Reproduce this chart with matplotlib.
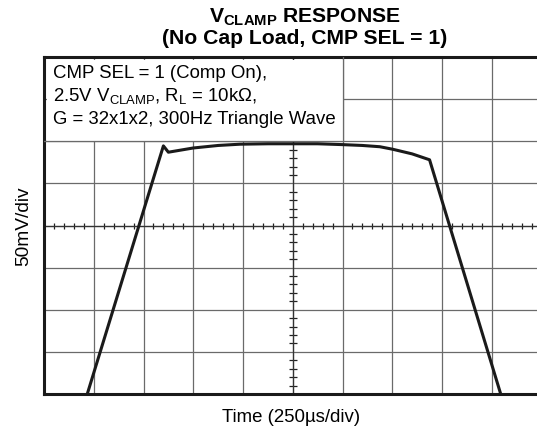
import matplotlib
matplotlib.use("Agg")
import matplotlib.pyplot as plt
from matplotlib.patches import Rectangle

plt.rcParams['font.family'] = ['Liberation Sans', 'DejaVu Sans']
plt.rcParams['mathtext.fontset'] = 'custom'
plt.rcParams['mathtext.rm'] = 'Liberation Sans'
plt.rcParams['mathtext.bf'] = 'Liberation Sans:bold'

# scope trace, in divisions (x: 10 div time, y: 8 div at 50mV/div)
t_div = [0.87, 2.40, 2.50, 3.00, 3.50, 3.94, 4.50, 5.00, 5.50, 6.00, 6.40, 6.75, 7.01, 7.40, 7.75, 9.18]
v_div = [0.00, 5.89, 5.74, 5.84, 5.90, 5.93, 5.94, 5.94, 5.94, 5.92, 5.90, 5.87, 5.81, 5.70, 5.56, 0.00]

n_xdiv = 10
n_ydiv = 8

title1 = "V$_{\\mathregular{CLAMP}}$ RESPONSE"
title2 = "(No Cap Load, CMP SEL = 1)"
note = ["CMP SEL = 1 (Comp On),",
        "2.5V V$_{\\mathregular{CLAMP}}$, R$_{\\mathregular{L}}$ = 10k\u03a9,",
        "G = 32x1x2, 300Hz Triangle Wave"]

fig = plt.figure(figsize=(5.37, 4.33), dpi=100)
ax = fig.add_axes([44 / 537, 39 / 433, 497.5 / 537, 337 / 433])
ax.set_xlim(0, n_xdiv)
ax.set_ylim(0, n_ydiv)

gridc = '#6a6a6a'
for i in range(1, n_xdiv):
    ax.axvline(i, color=gridc, lw=0.9, zorder=1)
for j in range(1, n_ydiv):
    ax.axhline(j, color=gridc, lw=0.9, zorder=1)

# minor ticks on the centre cross
cx, cy = n_xdiv / 2, n_ydiv / 2
mx = [k * 0.2 for k in range(1, n_xdiv * 5) if k % 5]
my = [k * 0.2 for k in range(1, n_ydiv * 5) if k % 5]
ax.plot(mx, [cy] * len(mx), ls='none', marker='|', ms=5, mew=0.9, color='#222222', zorder=2)
ax.plot([cx] * len(my), my, ls='none', marker='_', ms=6, mew=0.9, color='#222222', zorder=2)
ax.axvline(cx, color='#333333', lw=0.9, zorder=2)
ax.axhline(cy, color='#333333', lw=0.9, zorder=2)

# note box covering top-left grid
ax.add_patch(Rectangle((0.06, 6), 5.94, 1.93, facecolor='white', edgecolor='none', zorder=3))
ax.plot([6, 6], [6, 8], color=gridc, lw=0.9, zorder=3)
ax.plot([0, 6], [6, 6], color=gridc, lw=0.9, zorder=3)
for k, line in enumerate(note):
    ax.text(0.18, 7.6 - k * 0.545, line, fontsize=13.4, va='center', ha='left', zorder=4)

ax.plot(t_div, v_div, color='#1a1a1a', lw=2.2, zorder=5, solid_joinstyle='round')

ax.set_xticks([])
ax.set_yticks([])
for s in ax.spines.values():
    s.set_linewidth(2.2)
    s.set_color('#1a1a1a')

fig.text(305 / 537, 1 - 17 / 433, title1, ha='center', va='center', fontsize=15.2, fontweight='bold')
fig.text(305 / 537, 1 - 38 / 433, title2, ha='center', va='center', fontsize=15.2, fontweight='bold')
fig.text(291 / 537, 1 - 418 / 433, "Time (250\u00b5s/div)", ha='center', va='center', fontsize=13.4)
fig.text(24 / 537, 1 - 226 / 433, "50mV/div", ha='center', va='center', fontsize=13.8, rotation=90)

fig.savefig("out.png", dpi=100)
